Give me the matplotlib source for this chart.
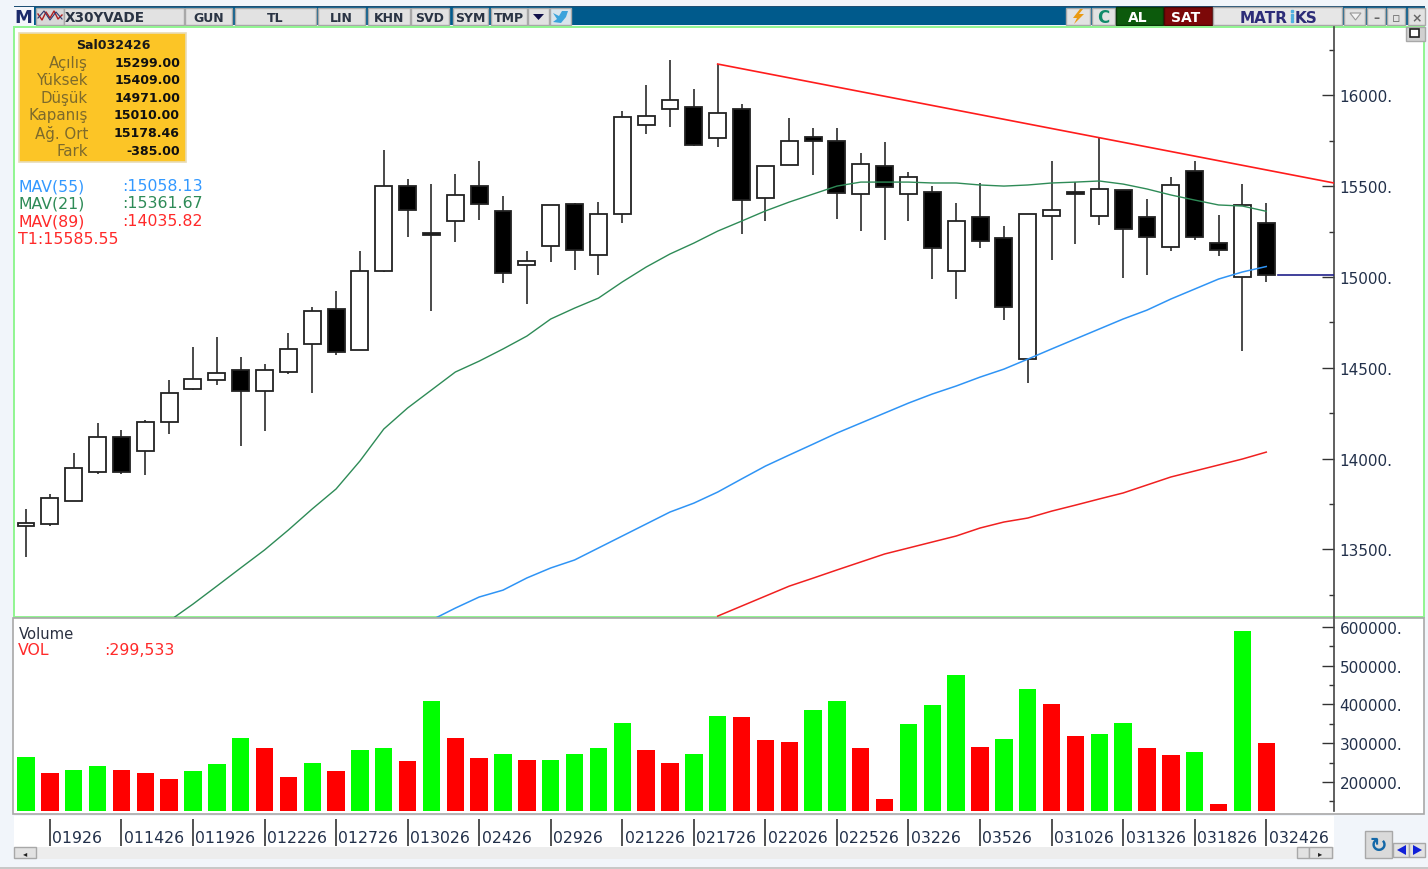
import numpy as np
import matplotlib
matplotlib.use('Agg')
import matplotlib.pyplot as plt
from matplotlib.patches import Rectangle, Polygon

nan = np.nan

opens = [13629,13640,13766,13926,14119,14042,14202,14383,14433,14488,14372,14477,14631,14824,14598,15033,15501,15242,15308,15501,
         15364,15066,15171,15402,15121,15347,15837,15925,15936,15766,15925,15435,15617,15771,15749,15457,15611,15457,15468,15033,
         15330,15215,14548,15336,15468,15336,15479,15330,15165,15584,15187,15000,15299]
highs = [13722,13805,14031,14196,14157,14213,14433,14615,14670,14559,14521,14692,14835,14923,15143,15699,15540,15512,15567,15639,
         15446,15143,15397,15408,15413,15914,16057,16195,16035,16173,15953,15611,15876,15821,15821,15683,15743,15578,15501,15408,
         15518,15281,15347,15639,15523,15771,15479,15430,15551,15639,15341,15512,15409]
lows = [13458,13629,13766,13915,13915,13910,14135,14378,14405,14069,14152,14466,14361,14570,14598,15028,15220,14813,15193,15314,
        14967,14851,15083,15039,15011,15297,15788,15826,15721,15716,15237,15308,15617,15562,15320,15253,15204,15308,14989,14879,
        15160,14763,14416,15094,15182,15286,14995,15011,15143,15204,15116,14593,14971]
closes = [13645,13783,13948,14119,13926,14202,14361,14438,14471,14372,14488,14604,14813,14587,15033,15501,15369,15231,15452,15402,
          15022,15088,15397,15149,15347,15881,15887,15975,15727,15903,15424,15611,15749,15749,15463,15622,15496,15551,15160,15308,
          15198,14835,15347,15369,15457,15485,15264,15220,15507,15220,15149,15397,15010]

ma21 = [nan]*6 + [13106,13199,13298,13398,13497,13607,13723,13833,13987,14163,14279,14378,14477,14537,14604,14675,14769,14829,14884,
                  14973,15055,15127,15187,15253,15308,15364,15413,15457,15501,15523,15523,15523,15518,15518,15507,15501,15507,15518,
                  15523,15529,15512,15485,15452,15424,15397,15391,15362]
ma55 = [nan]*17 + [13111,13177,13238,13276,13343,13398,13442,13508,13574,13640,13706,13755,13816,13888,13959,14020,14080,14141,14196,
                   14251,14306,14356,14400,14449,14493,14548,14604,14659,14714,14769,14818,14879,14934,14989,15028,15058]
ma89 = [nan]*29 + [13133,13188,13243,13298,13342,13387,13431,13475,13508,13541,13574,13618,13651,13673,13711,13744,13778,13811,13855,
                   13899,13932,13965,13998,14036]

trend_x = [29, 54.84]
trend_y = [16173, 15518]
last_x = [52.5, 54.84]
last_y = [15010, 15010]

volume = [264500,223000,231000,241000,231000,223000,208000,228000,246000,314000,288000,213000,249000,228000,283000,288000,254000,409000,
          314000,262000,272000,257000,257000,272000,288000,352000,283000,249000,272000,370000,368000,308000,303000,386000,409000,288000,
          156000,350000,399000,476000,290000,311000,440000,401000,319000,324000,352000,288000,270000,277000,143000,590000,299533]
vol_side = 'GRGGRRRGGGRRGRGGRGRRGRGGGGRRGGRRRGGRRGGGRGGRRGGRRGRGR'

date_pos = [1,4,7,10,13,16,19,22,25,28,31,34,37,40,43,46,49,52]
date_labels = ['01926','011426','011926','012226','012726','013026','02426','02926','021226',
               '021726','022026','022526','03226','03526','031026','031326','031826','032426']

info_names = ['Açılış','Yüksek','Düşük','Kapanış','Ağ. Ort','Fark']
info_values = ['15299.00','15409.00','14971.00','15010.00','15178.46','-385.00']
mav_names = ['MAV(55)','MAV(21)','MAV(89)']
mav_values = [':15058.13',':15361.67',':14035.82']
mav_colors = ['#3399ff','#2e8b57','#ff2a2a']

buttons = [(185,232,'GUN'),(235,316,'TL'),(318,365,'LIN'),(368,410,'KHN'),(411,449,'SVD'),(453,488,'SYM'),(491,527,'TMP')]

W, H = 1428, 870
fig = plt.figure(figsize=(W/100, H/100), dpi=100, facecolor='#f1f5fa')


def pane(x0, y0, x1, y1):
    return fig.add_axes([x0/W, 1-y1/H, (x1-x0)/W, (y1-y0)/H])


# window frame, toolbar etc, in pixels
bg = pane(0, 0, W, H)
bg.set_xlim(0, W)
bg.set_ylim(H, 0)
bg.axis('off')


def box(x0, y0, x1, y1, fc='#e2e2e2', ec='#a8a8a8', lw=1.0):
    bg.add_patch(Rectangle((x0, y0), x1-x0, y1-y0, fc=fc, ec=ec, lw=lw))


def label(x, y, s, size=9, color='#2a3444', weight='bold', ha='center'):
    bg.text(x, y+0.8, s, fontsize=size, color=color, fontweight=weight, ha=ha, va='center')


box(14, 6.5, 1425, 8.5, fc='#1d4f74', ec='none')
box(14, 8, 1425, 26, fc='#005a8c', ec='none')
box(14, 8, 34, 26, fc='#f4f6fa', ec='none')
label(23, 17.5, 'M', size=13, color='#1c2a6a')
box(36, 9, 64, 26, fc='#d8d8d8')
bg.plot([38, 42, 46, 50, 54, 58, 62], [15, 21, 13, 19, 12, 20, 16], color='#b02020', lw=1)
bg.plot([38, 44, 50, 56, 62], [19, 12, 21, 13, 20], color='#303a70', lw=0.8)
box(64, 9, 184, 26)
label(65, 17.5, 'X30YVADE', size=9.8, ha='left')
for x0, x1, s in buttons:
    box(x0, 9, x1, 26)
    label((x0+x1)/2, 17.5, s, size=9)
box(528, 9, 549, 26)
bg.add_patch(Polygon([[533, 15], [544, 15], [538.5, 21]], fc='#10104a', ec='none'))
box(550, 9, 571, 26, fc='#d8e4ec')
bg.add_patch(Polygon([[553, 14], [559, 17], [562, 12], [568, 12], [566, 18], [561, 24], [553, 23], [557, 20]], fc='#3aa3dc', ec='none'))

box(1066, 9, 1090, 26)
bg.add_patch(Polygon([[1080, 10], [1073, 19], [1077, 19], [1074, 25], [1084, 15], [1079, 15], [1083, 10]], fc='#ea9a12', ec='none'))
box(1092, 9, 1115, 26)
label(1103, 17.5, 'C', size=12, color='#108a6a')
box(1116, 8, 1163, 26, fc='#0c5a0c', ec='#083a08')
label(1138, 17.5, 'AL', size=10, color='white')
box(1164, 8, 1212, 26, fc='#7c0808', ec='#500404')
label(1186, 17.5, 'SAT', size=10, color='white')
box(1213, 8, 1342, 26, fc='#e6e6e6')
label(1288, 17.5, 'MATR', size=11, color='#2c2c78', ha='right')
label(1295, 17.5, 'KS', size=11, color='#2c2c78', ha='left')
bg.plot([1291.5, 1291.5, 1291.5, 1291.5], [12, 16, 19, 22], ls='none', marker='s', ms=1.5, color='#50b0e0')
box(1344, 9, 1365, 26)
bg.add_patch(Polygon([[1350, 14], [1361, 14], [1355.5, 21]], fc='#f4f4f4', ec='#999999', lw=0.8))
for x0, x1, s in [(1367, 1385, '–'), (1387, 1405, '▫'), (1408, 1425, '×')]:
    box(x0, 9, x1, 26)
    label((x0+x1)/2, 17.5, s, size=9, color='#666666')

box(14, 28, 1424, 618, fc='white', ec='#90f590', lw=1.4)
box(13, 619, 1424, 815, fc='white', ec='#a8a8a8', lw=1.2)
box(14, 817, 1334, 848, fc='white', ec='none')
box(14, 848, 1334, 860, fc='#ededed', ec='none')
box(14, 848, 36, 859)
label(25, 853, '◂', size=6, color='#202020')
box(1297, 848, 1309, 859)
box(1309, 848, 1332, 859)
label(1320, 853, '▸', size=6, color='#202020')
box(1406, 28, 1425, 42, fc='#d0d0d0')
box(1410, 30, 1419, 38, fc='white', ec='#202020', lw=1.2)
box(1365, 832, 1392, 859, fc='#dadada')
label(1378, 845, '↻', size=15, color='#1468a8')
box(1393, 844, 1409, 858)
box(1409, 844, 1425, 858)
bg.add_patch(Polygon([[1397, 851], [1406, 846], [1406, 856]], fc='#1020d8', ec='none'))
bg.add_patch(Polygon([[1422, 851], [1413, 846], [1413, 856]], fc='#1020d8', ec='none'))
box(0, 868, W, 870, fc='#c8c8c8', ec='none')

# info box
box(19, 34, 186, 163, fc='#fcc526', ec='#e8dcb8', lw=1.2)
label(113, 45, 'Sal032426', size=9.1, color='#1a1a1a')
for k in range(len(info_names)):
    row_y = [63, 80, 98, 115, 133, 151][k]
    label(88, row_y, info_names[k], size=10.8, color='#7d6a2c', weight='normal', ha='right')
    label(180, row_y, info_values[k], size=9.1, color='#101010', ha='right')

for k in range(3):
    row_y = [186, 203, 221][k]
    label(18, row_y, mav_names[k], size=11.3, color=mav_colors[k], weight='normal', ha='left')
    label(122, row_y, mav_values[k], size=11.3, color=mav_colors[k], weight='normal', ha='left')
label(18, 239, 'T1:15585.55', size=11.3, color='#ff2a2a', weight='normal', ha='left')
label(19, 634, 'Volume', size=10.6, color='#2a3040', weight='normal', ha='left')
label(18, 650, 'VOL', size=11.3, color='#ff2a2a', weight='normal', ha='left')
label(104, 650, ':299,533', size=11.3, color='#ff2a2a', weight='normal', ha='left')

# price pane
x = np.arange(len(closes))
xlim = (-0.503, 54.84)
opens = np.array(opens)
closes = np.array(closes)

ax = pane(14, 28, 1334, 618)
ax.patch.set_alpha(0)
ax.vlines(x, lows, highs, color='#333333', lw=1.25, zorder=2)
body_color = ['white' if c >= o else 'black' for o, c in zip(opens, closes)]
ax.bar(x, np.abs(closes-opens), bottom=np.minimum(opens, closes), width=0.71,
       color=body_color, edgecolor='#222222', linewidth=1.3, zorder=3)
ax.plot(x, ma21, color='#2e8b57', lw=1.0, zorder=4)
ax.plot(x, ma55, color='#2f94f5', lw=1.1, zorder=4)
ax.plot(x, ma89, color='#f02020', lw=1.1, zorder=4)
ax.plot(trend_x, trend_y, color='#ff1c1c', lw=1.2, zorder=4)
ax.plot(last_x, last_y, color='#20208a', lw=1.2, zorder=4)
ax.set_xlim(xlim)
ax.set_ylim(13128, 16377)
ax.set_xticks([])
ax.set_yticks([13500, 14000, 14500, 15000, 15500, 16000])
ax.set_yticklabels(['13500.', '14000.', '14500.', '15000.', '15500.', '16000.'])
ax.set_yticks([13250, 13750, 14250, 14750, 15250, 15750, 16250], minor=True)

# volume pane
ax2 = pane(14, 620, 1334, 812)
ax2.patch.set_alpha(0)
ax2.bar(x, volume, width=0.73, color=['#00ff00' if s == 'G' else '#ff0000' for s in vol_side])
ax2.set_xlim(xlim)
ax2.set_ylim(125000, 620700)
ax2.set_xticks([])
ax2.set_yticks([200000, 300000, 400000, 500000, 600000])
ax2.set_yticklabels(['200000.', '300000.', '400000.', '500000.', '600000.'])
ax2.set_yticks([150000, 250000, 350000, 450000, 550000], minor=True)

for a in [ax, ax2]:
    for s in ['top', 'left', 'bottom']:
        a.spines[s].set_visible(False)
    a.spines['right'].set_color('#444444')
    a.spines['right'].set_linewidth(1.2)
    a.tick_params(axis='y', which='major', direction='in', length=8.5, width=1.0, color='#333333',
                  left=False, right=True, labelleft=False, labelright=True, labelsize=11, labelcolor='#22304a', pad=4)
    a.tick_params(axis='y', which='minor', direction='in', length=3.5, width=1.0, color='#333333',
                  left=False, right=True)

# date strip
ax3 = pane(14, 820, 1334, 848)
ax3.set_xlim(xlim)
ax3.set_ylim(1, 0)
ax3.axis('off')
ax3.vlines(date_pos, 0, 0.96, color='#222222', lw=1.1)
for p, s in zip(date_pos, date_labels):
    ax3.text(p+0.1, 0.66, s, fontsize=11.3, color='#22304a', ha='left', va='center')

fig.savefig('out.png', dpi=100, facecolor=fig.get_facecolor())
